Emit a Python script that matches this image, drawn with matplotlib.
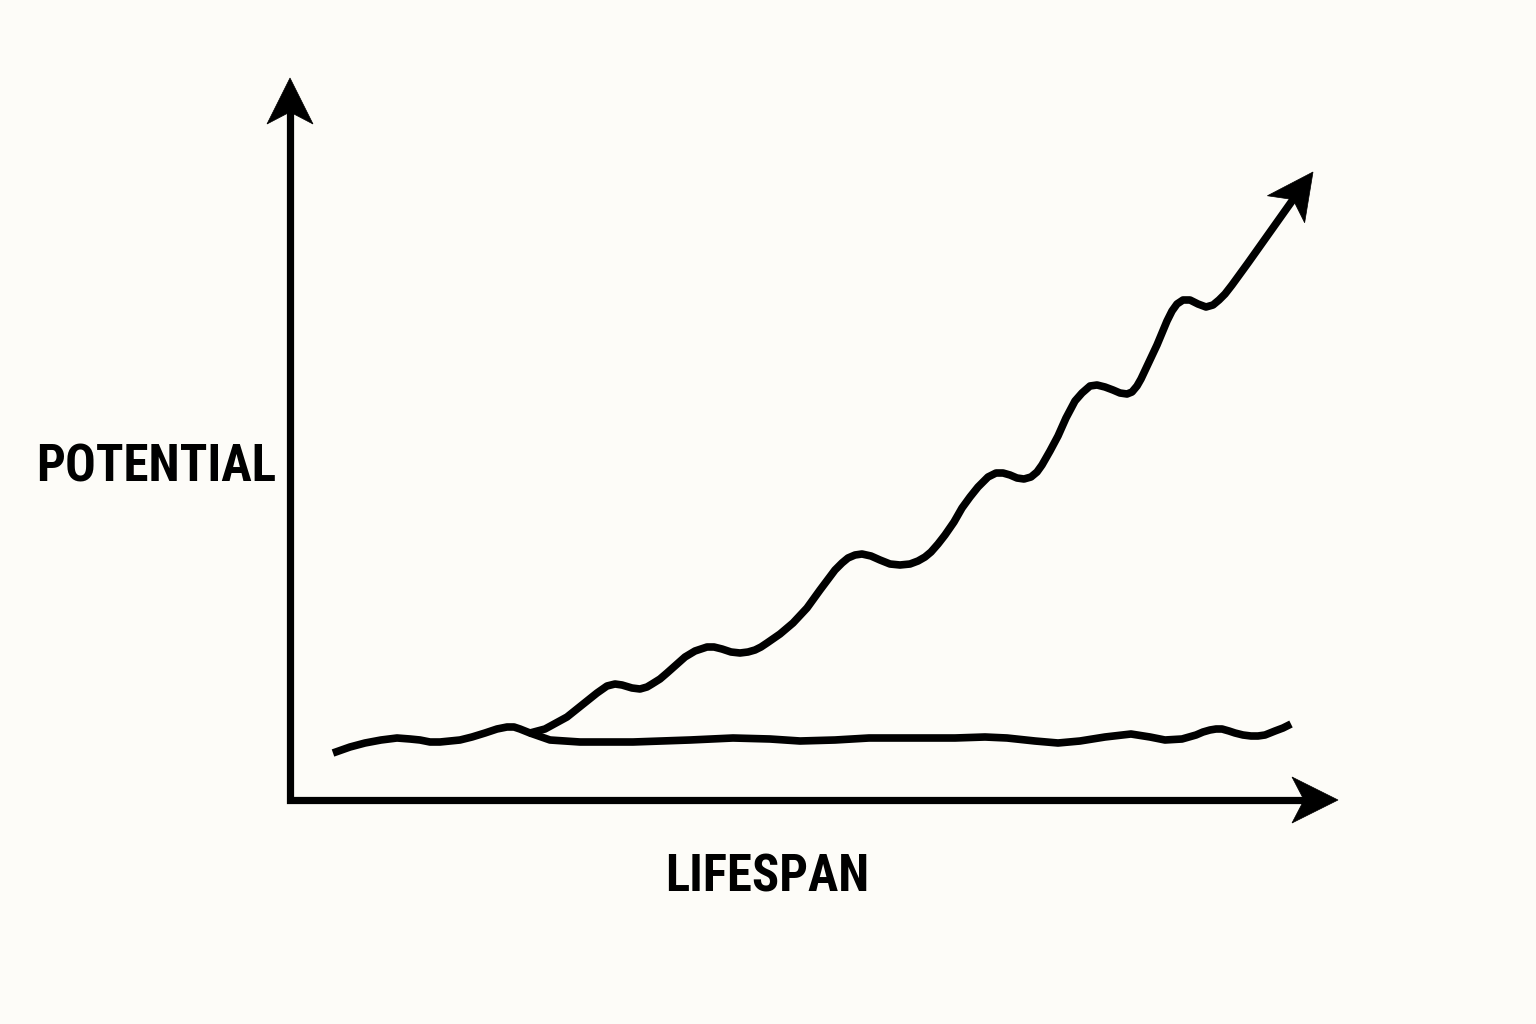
import numpy as np
import matplotlib
matplotlib.use("Agg")
import matplotlib.pyplot as plt
from matplotlib import font_manager
from matplotlib.patches import Polygon

# chart units: x = lifespan, y = potential (origin at the axes corner)
shared_x = [43, 60, 75, 91, 107, 120, 130, 140, 150, 160, 170, 182, 195, 207,
            217, 224, 230, 240]
shared_y = [47, 53, 57, 60, 62, 61, 60, 58, 58, 59, 60, 63, 67, 71,
            73, 73, 71, 67]

rise_x = [255, 266, 277, 287, 297, 307, 317, 325, 332, 342, 350, 357, 362, 370,
          377, 386, 395, 405, 417, 424, 432, 441, 450, 458, 465, 471, 477, 490,
          503, 517, 530, 545, 552, 558, 565, 572, 581, 590, 600, 610, 620, 628,
          635, 641, 648, 655, 664, 672, 680, 688, 698, 706, 713, 720, 727, 734,
          741, 747, 752, 760, 768, 776, 785, 792, 800, 807, 815, 823, 830, 837,
          842, 847, 851, 859, 867, 872, 877, 882, 887, 893, 900, 908, 916, 923,
          929, 935, 942, 958, 980, 1002]
rise_y = [71, 77, 83, 91, 99, 107, 114, 116, 115, 112, 111, 113, 116, 121,
          127, 135, 143, 149, 153, 153, 151, 148, 147, 148, 150, 153, 157, 166,
          177, 192, 210, 230, 237, 242, 245, 246, 244, 240, 236, 235, 236, 239,
          243, 248, 256, 265, 278, 292, 303, 313, 323, 327, 327, 325, 322, 321,
          323, 328, 335, 349, 364, 382, 399, 407, 414, 415, 413, 410, 407, 406,
          408, 414, 421, 438, 455, 467, 479, 489, 496, 500, 500, 496, 493, 495,
          500, 506, 515, 537, 568, 599]
rise_tip = (1023, 628)

flat_x = [240, 260, 290, 343, 400, 443, 480, 510, 545, 579, 620, 665, 695, 717,
          745, 768, 790, 815, 841, 860, 875, 892, 906, 913, 920, 926, 932, 939,
          945, 953, 961, 968, 975, 980, 985, 993, 1001]
flat_y = [67, 60, 58, 58, 60, 62, 61, 59, 60, 62, 62, 62, 63, 62,
          59, 57, 59, 63, 66, 63, 60, 61, 65, 68, 70, 71, 71, 69,
          67, 65, 64, 64, 65, 67, 69, 72, 76]

x_label = "LIFESPAN"
y_label = "POTENTIAL"
x_axis_end = 1048
y_axis_end = 722

BG = "#fdfcf8"
INK = "black"
HEAD_LEN, HEAD_HALF, NOTCH = 46, 23, 12


"""
Draw a notched arrow head and return the point where the shaft should stop
    - tip: (x, y) of the point of the arrow
    - tail: (x, y) of a point the shaft comes from
"""
def arrowHead(ax, tip, tail):
    tip = np.array(tip, float)
    d = tip - np.array(tail, float)
    d /= np.hypot(*d)
    n = np.array([-d[1], d[0]])
    back = tip - HEAD_LEN * d
    inner = tip - (HEAD_LEN - NOTCH) * d
    pts = [tip, back + HEAD_HALF * n, inner, back - HEAD_HALF * n]
    ax.add_patch(Polygon(pts, closed=True, fc=INK, ec=INK, lw=0.5,
                         joinstyle="miter", zorder=3))
    return inner + 2 * d


"""
First condensed family that is actually installed
"""
def pickFont(candidates):
    for fam in candidates:
        try:
            font_manager.findfont(font_manager.FontProperties(family=fam, weight="bold"),
                                  fallback_to_default=False)
            return fam
        except ValueError:
            pass
    return "DejaVu Sans"


"""
Put a label and shrink/grow it so it spans target_w pixels
"""
def fitLabel(ax, fig, x, y, s, target_w, family):
    t = ax.text(x, y, s, ha="center", va="baseline", fontsize=48,
                fontweight="bold", fontstretch="condensed",
                family=[family, "DejaVu Sans"], color=INK)
    r = fig.canvas.get_renderer()
    w = t.get_window_extent(renderer=r).width
    t.set_fontsize(48 * target_w / w)
    return t


fig = plt.figure(figsize=(15.36, 10.24), dpi=100, facecolor=BG)
ax = fig.add_axes([0, 0, 1, 1])
ax.set_facecolor(BG)
ax.set_xlim(-290, 1246)
ax.set_ylim(-224, 800)
ax.axis("off")

# axes with arrows
xs = arrowHead(ax, (x_axis_end, 0), (0, 0))
ys = arrowHead(ax, (0, y_axis_end), (0, 0))
ax.plot([ys[0], 0, xs[0]], [ys[1], 0, xs[1]], color=INK, lw=5.2,
        solid_joinstyle="miter", solid_capstyle="butt")

# rising curve
end = arrowHead(ax, rise_tip, (rise_x[-1], rise_y[-1]))
ax.plot(shared_x + rise_x + [end[0]], shared_y + rise_y + [end[1]], color=INK,
        lw=5.5, solid_joinstyle="round", solid_capstyle="butt")

# flat curve
ax.plot(flat_x, flat_y, color=INK, lw=5.5, solid_joinstyle="round",
        solid_capstyle="butt")

fam = pickFont(["Roboto Condensed", "Open Sans Condensed", "Noto Sans Display ExtraCondensed",
                "Noto Sans ExtraCondensed", "Noto Sans Condensed", "Liberation Sans Narrow",
                "DejaVu Sans Condensed", "DejaVu Sans"])
fitLabel(ax, fig, -134, 318, y_label, 240, fam)
fitLabel(ax, fig, 477, -91, x_label, 204, fam)

fig.savefig("out.png", dpi=100, facecolor=BG)
